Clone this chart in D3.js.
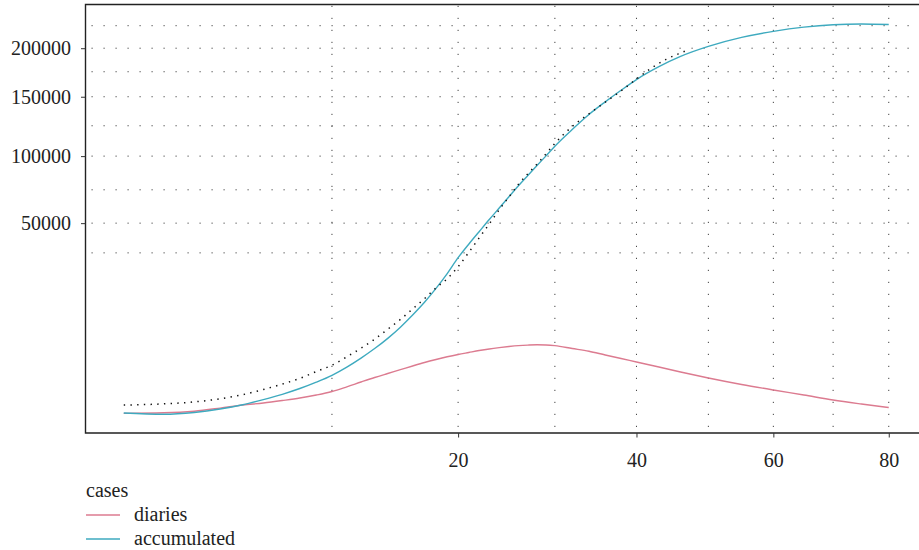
<!DOCTYPE html>
<html>
<head>
<meta charset="utf-8">
<script src="https://cdn.jsdelivr.net/npm/d3@7"></script>
<style>
  body { margin: 0; background: #fff; }
  svg { display: block; }
  text { font-family: "Liberation Serif", "DejaVu Serif", serif; fill: #222; }
</style>
</head>
<body>
<svg id="chart" width="919" height="550"></svg>
<script>
// days since start of the series
const days = [1,2,3,4,5,6,7,8,9,10,11,12,13,14,15,16,17,18,19,20,21,22,23,24,25,26,27,28,29,30,32,34,36,38,40,43,46,50,55,60,65,70,75,80];

// daily cases (smoothed)
const diaries = [30,110,360,840,1320,1640,2020,2410,2880,3430,4160,4910,5610,6230,6820,7400,7940,8410,8830,9190,9500,9800,10050,10250,10420,10560,10650,10700,10670,10560,10120,9690,9110,8570,8020,7240,6460,5530,4520,3660,2880,2100,1480,930];

// accumulated cases (smoothed)
const accumulated = [80,-110,170,700,1370,2170,2990,3890,4880,5950,7230,8630,10110,11700,13440,15330,17310,19470,21780,24250,32300,42800,52700,61300,69800,78000,85600,93000,100200,108200,121900,134700,145600,156500,167200,180400,191300,202000,212000,218700,223400,226100,226900,226300];

// fitted curve (dotted)
const fitDays = [1,2,3,4,5,6,7,8,9,10,11,12,13,14,15,16,17,18,19,20,21,22,23,24,25,26,27,28,29,30,32,34,36,38,40,42,44,46,47];
const fitted = [1320,1500,1810,2290,2940,3740,4580,5470,6530,7520,8820,10170,11570,13120,14640,16280,17880,19550,20980,22850,25400,37500,49400,60000,69700,79100,86900,94100,101900,110500,124400,135300,145300,155800,167800,178900,188200,194900,197900];

const xTicks = [20, 40, 60, 80];
const xMinor = [10, 30, 50, 70];
const yTicks = [50000, 100000, 150000, 200000];
const yMinor = [25000, 75000, 125000, 175000, 225000];

const seriesNames = ["diaries", "accumulated"];
const colors = { diaries: "#dc7b90", accumulated: "#3eaabf" };

const svg = d3.select("#chart");

// panel box
const panel = { left: 85.5, right: 927, top: 4.5, bottom: 433 };
const expand = 0.05;

// x: square-root scale, expanded 5% on each side
const xSpan = (panel.right - panel.left) / (1 + 2 * expand);
const x = d3.scaleSqrt()
    .domain([1, 80])
    .range([panel.left + xSpan * expand, panel.right - xSpan * expand]);

// y: piecewise scale through the break values
const ySpan = (panel.bottom - panel.top) / (1 + 2 * expand);
const yBottom = panel.bottom - ySpan * expand;
const yAnchor = [0, 25000, 50000, 75000, 100000, 125000, 150000, 175000, 200000, 225000];
const yAnchorFrac = [0, 0.4124, 0.4887, 0.5743, 0.6608, 0.7387, 0.8132, 0.8774, 0.9378, 0.9956];
const y = d3.scaleLinear()
    .domain(yAnchor)
    .range(yAnchorFrac.map(f => yBottom - f * ySpan));

// grid
const grid = svg.append("g").attr("stroke", "#444").attr("stroke-width", 1)
    .attr("stroke-dasharray", "1.2,10.8");

grid.selectAll("line.h")
    .data(yTicks.concat(yMinor))
    .enter().append("line")
    .attr("x1", panel.left + 6)
    .attr("x2", panel.right)
    .attr("y1", d => y(d))
    .attr("y2", d => y(d));

grid.selectAll("line.v")
    .data(xTicks.concat(xMinor))
    .enter().append("line")
    .attr("x1", d => x(d))
    .attr("x2", d => x(d))
    .attr("y1", panel.bottom - 6)
    .attr("y2", panel.top);

// series
const line = d3.line()
    .x((d, i) => x(days[i]))
    .y(d => y(d))
    .curve(d3.curveMonotoneX);

svg.append("path")
    .datum(diaries)
    .attr("fill", "none")
    .attr("stroke", colors.diaries)
    .attr("stroke-width", 1.4)
    .attr("d", line);

svg.append("path")
    .datum(accumulated)
    .attr("fill", "none")
    .attr("stroke", colors.accumulated)
    .attr("stroke-width", 1.4)
    .attr("d", line);

const fitLine = d3.line()
    .x((d, i) => x(fitDays[i]))
    .y(d => y(d))
    .curve(d3.curveMonotoneX);

svg.append("path")
    .datum(fitted)
    .attr("fill", "none")
    .attr("stroke", "#111")
    .attr("stroke-width", 1.5)
    .attr("stroke-dasharray", "1.4,5.3")
    .attr("d", fitLine);

// panel border (left, top, bottom)
svg.append("path")
    .attr("fill", "none")
    .attr("stroke", "#222")
    .attr("stroke-width", 1.4)
    .attr("d", `M${panel.right},${panel.top}H${panel.left}V${panel.bottom}H${panel.right}`);

// axes
const yAxis = svg.append("g")
    .attr("transform", `translate(${panel.left},0)`)
    .call(d3.axisLeft(y).tickValues(yTicks).tickSize(4.5).tickPadding(10).tickFormat(d3.format("d")));
yAxis.select(".domain").remove();
yAxis.selectAll("line").attr("stroke", "#333");
yAxis.selectAll("text").style("font-size", "20px").attr("fill", "#222");

const xAxis = svg.append("g")
    .attr("transform", `translate(0,${panel.bottom})`)
    .call(d3.axisBottom(x).tickValues(xTicks).tickSize(4.5).tickPadding(15));
xAxis.select(".domain").remove();
xAxis.selectAll("line").attr("stroke", "#333");
xAxis.selectAll("text").style("font-size", "20px").attr("fill", "#222");

// legend
const legend = svg.append("g").attr("transform", "translate(81,0)");
legend.append("text")
    .attr("x", 5)
    .attr("y", 497)
    .style("font-size", "20px")
    .text("cases");

seriesNames.forEach((name, i) => {
    const cy = 515 + i * 24;
    legend.append("line")
        .attr("x1", 5).attr("x2", 39)
        .attr("y1", cy).attr("y2", cy)
        .attr("stroke", colors[name])
        .attr("stroke-width", 1.4);
    legend.append("text")
        .attr("x", 53)
        .attr("y", cy + 6)
        .style("font-size", "20px")
        .text(name);
});
</script>
</body>
</html>
